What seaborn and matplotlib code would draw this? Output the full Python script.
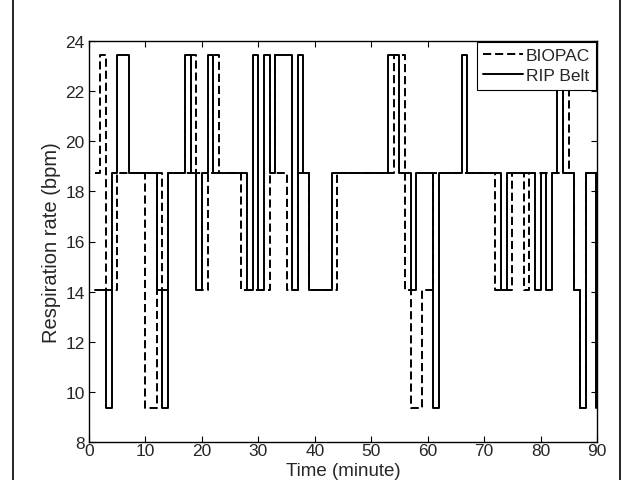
import matplotlib
matplotlib.use("Agg")
import numpy as np
import pandas as pd
import seaborn as sns
import matplotlib.pyplot as plt
from matplotlib.lines import Line2D

# respiration-rate levels (bpm)
L1, L2, L3, L4 = 9.375, 14.0625, 18.75, 23.4375

# change points (minute) and the value held from each one onward
biopac_t = [1, 2, 3, 5, 10, 12, 13, 14, 18, 19, 20, 21, 22, 23, 27, 32, 33, 35, 37, 39,
            44, 54, 56, 57, 59, 61, 72, 75, 77, 78, 84, 85, 86, 87, 88, 90]
biopac_v = [L3, L4, L2, L3, L1, L3, L2, L3, L4, L3, L2, L3, L4, L3, L2, L4, L3, L2, L3, L2,
            L3, L4, L2, L1, L2, L3, L2, L3, L2, L3, L4, L3, L2, L1, L3, L3]

rip_t = [1, 3, 4, 5, 7, 12, 13, 14, 17, 18, 19, 20, 21, 22, 28, 29, 30, 31, 32, 33, 36, 37,
         38, 39, 43, 53, 55, 57, 58, 61, 62, 66, 67, 73, 74, 79, 80, 81, 82, 83, 84, 86, 87,
         88, 89.8]
rip_v = [L2, L1, L3, L4, L3, L2, L1, L3, L4, L3, L2, L3, L4, L3, L2, L4, L2, L4, L3, L4, L2, L4,
         L3, L2, L3, L4, L3, L2, L3, L1, L3, L4, L3, L2, L3, L2, L3, L2, L3, L4, L3, L2, L1,
         L3, L1]

x_ticks = list(range(0, 91, 10))
y_ticks = list(range(8, 25, 2))

sns.set_theme(style="ticks")
plt.rcParams["font.family"] = ["Liberation Sans", "DejaVu Sans"]

fig = plt.figure(figsize=(6.32, 4.81), dpi=100)
AX_L, AX_R, AX_T, AX_B = 89, 597, 42, 443
ax = fig.add_axes([AX_L / 632, 1 - AX_B / 481, (AX_R - AX_L) / 632, (AX_B - AX_T) / 481])

df_b = pd.DataFrame({"t": biopac_t, "v": biopac_v})
df_r = pd.DataFrame({"t": rip_t, "v": rip_v})

sns.lineplot(data=df_b, x="t", y="v", ax=ax, color="black", lw=1.4,
             drawstyle="steps-post", estimator=None, sort=False,
             dashes=False, linestyle=(0, (4.2, 2.0)), label="BIOPAC")
sns.lineplot(data=df_r, x="t", y="v", ax=ax, color="black", lw=1.4,
             drawstyle="steps-post", estimator=None, sort=False,
             label="RIP Belt")

ax.set_xlim(0, 90)
ax.set_ylim(8, 24)
ax.set_xticks(x_ticks)
ax.set_yticks(y_ticks)
ax.tick_params(direction="in", top=True, right=True, length=4, width=0.8,
               labelsize=12.5, color="black")
ax.tick_params(axis="x", pad=0.5)
ax.tick_params(axis="y", pad=3)
for s in ax.spines.values():
    s.set_visible(True)
    s.set_color("black")
    s.set_linewidth(1.0)
ax.set_xlabel("Time (minute)", fontsize=13.5, va="bottom")
ax.xaxis.set_label_coords(0.5, -(480.5 - AX_B) / (AX_B - AX_T))
ax.set_ylabel("Respiration rate (bpm)", fontsize=14.5, labelpad=3)

leg = ax.legend(loc="upper right", fontsize=12.5, frameon=True, fancybox=False,
                edgecolor="black", framealpha=1, borderaxespad=0.05,
                handlelength=2.3, handletextpad=0.15, borderpad=0.35,
                labelspacing=0.3)
leg.get_frame().set_linewidth(0.8)

# outer frame of the figure
fig.add_artist(Line2D([13 / 632, 13 / 632], [0, 1], color="black", lw=1.2,
                      transform=fig.transFigure))
fig.add_artist(Line2D([620 / 632, 620 / 632], [0, 1], color="black", lw=1.2,
                      transform=fig.transFigure))

fig.savefig("out.png", dpi=100)
